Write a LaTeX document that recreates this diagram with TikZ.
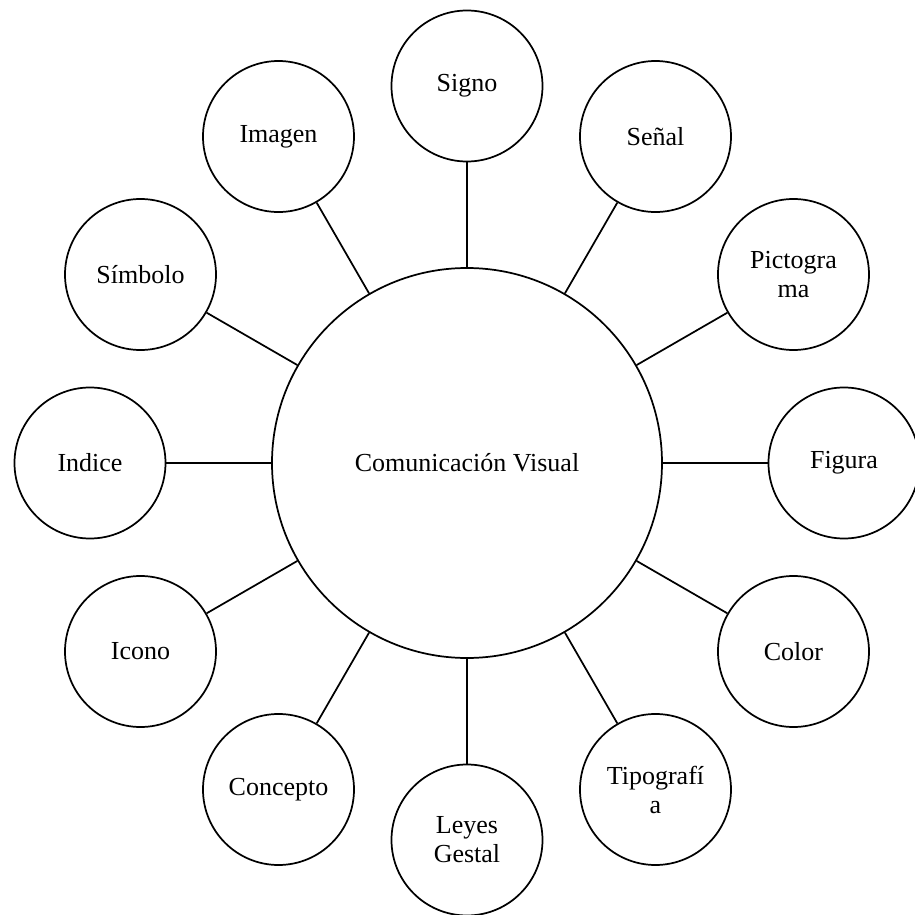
\documentclass[tikz,border=0pt]{standalone}
\usepackage{fontspec}
\setmainfont{Liberation Serif}
\begin{document}
\begin{tikzpicture}[x=0.75pt,y=0.75pt,
  every node/.style={font=\fontsize{19.5}{21.75}\selectfont},
  hub/.style={circle,draw,line width=1.3pt,minimum size=292.5pt,inner sep=0pt},
  leaf/.style={circle,draw,line width=1.3pt,minimum size=113.25pt,inner sep=0pt,align=center},
  link/.style={line width=1.3pt}]
\useasboundingbox (-467,-452) rectangle (448,463);
\node[hub] (c) at (0,0) {Comunicación Visual};
\foreach \a/\n/\t in {90/n1/{Signo},60/n2/{Señal},30/n3/{Pictogra\\ma},0/n4/{Figura},
  -30/n5/{Color},-60/n6/{Tipografí\\a},-90/n7/{Leyes\\Gestal},-120/n8/{Concepto},
  -150/n9/{Icono},180/n10/{Indice},150/n11/{Símbolo},120/n12/{Imagen}}{
  \node[leaf] (\n) at (\a:377) {\t};
  \draw[link] (c) -- (\n);
}
\end{tikzpicture}
\end{document}
